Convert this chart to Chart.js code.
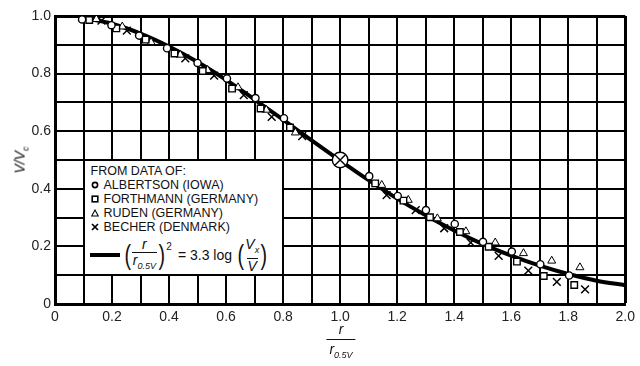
<!DOCTYPE html>
<html>
<head>
<meta charset="utf-8">
<script src="https://cdn.jsdelivr.net/npm/chart.js@4"></script>
<style>
  html, body { margin: 0; padding: 0; background: #fff; }
  #wrap { position: relative; width: 640px; height: 366px; font-family: "Liberation Sans", Arial, sans-serif; color: #111; }
  #chart { position: absolute; left: 0; top: 0; }
  .ytitle { position: absolute; left: 21px; top: 160px; transform: translate(-50%, -50%) rotate(-90deg); font-size: 14px; font-style: italic; white-space: nowrap; }
  .ytitle sub { font-size: 9px; }
  .xtitle { position: absolute; left: 341px; top: 322px; transform: translateX(-50%); display: flex; flex-direction: column; align-items: center; font-size: 14px; }
  .xtitle .num { font-style: italic; line-height: 15px; padding-bottom: 2px; }
  .xtitle .den { font-style: italic; border-top: 1.5px solid #111; line-height: 17px; padding: 1px 3px 0 3px; }
  .xtitle sub, .legend sub { font-size: 9px; font-style: italic; }
  #legendBox { position: absolute; background: #fff; font-size: 12.5px; }
  .legend .head { position: absolute; left: 6px; top: 3px; white-space: nowrap; }
  .legend .row { position: absolute; left: 6px; white-space: nowrap; display: flex; align-items: center; height: 14px; }
  .legend .row svg { margin-right: 5px; }
  .formula { position: absolute; left: 5px; top: 77px; display: flex; align-items: center; white-space: nowrap; font-size: 14px; }
  .formula .rule { display: inline-block; width: 30px; height: 4px; background: #000; margin-right: 3px; }
  .formula .paren { font-size: 28px; font-weight: 300; line-height: 30px; transform: scaleX(0.7); }
  .formula .frac { display: inline-flex; flex-direction: column; align-items: center; font-style: italic; }
  .formula .frac .n { line-height: 13px; padding-bottom: 1px; }
  .formula .frac .d { border-top: 1.3px solid #111; line-height: 14px; padding: 0 1px; }
  .formula sup { font-size: 10px; align-self: flex-start; margin-top: 3px; }
  .formula .eq { margin: 0 4px 0 6px; }
</style>
</head>
<body>
<div id="wrap">
  <canvas id="chart" width="640" height="366"></canvas>
  <div class="ytitle">V/V<sub>c</sub></div>
  <div class="xtitle"><span class="num">r</span><span class="den">r<sub>0.5V</sub></span></div>
  <div id="legendBox" class="legend">
    <div class="head">FROM DATA OF:</div>
    <div class="row" style="top:17px"><svg width="8" height="8"><circle cx="4" cy="4" r="2.6" fill="none" stroke="#000" stroke-width="1.6"/></svg>ALBERTSON (IOWA)</div>
    <div class="row" style="top:31px"><svg width="8" height="8"><rect x="1.2" y="1.2" width="5.6" height="5.6" fill="none" stroke="#000" stroke-width="1.6"/></svg>FORTHMANN (GERMANY)</div>
    <div class="row" style="top:45px"><svg width="8" height="8"><polygon points="4,1 7.3,7 0.7,7" fill="none" stroke="#000" stroke-width="1.1"/></svg>RUDEN (GERMANY)</div>
    <div class="row" style="top:59px"><svg width="8" height="8"><path d="M1,1 L7,7 M7,1 L1,7" stroke="#000" stroke-width="1.7"/></svg>BECHER (DENMARK)</div>
    <div class="formula">
      <span class="rule"></span>
      <span class="paren">(</span>
      <span class="frac"><span class="n">r</span><span class="d">r<sub>0.5V</sub></span></span>
      <span class="paren">)</span><sup>2</sup>
      <span class="eq">= 3.3 log</span>
      <span class="paren">(</span>
      <span class="frac"><span class="n">V<sub>x</sub></span><span class="d">V</span></span>
      <span class="paren">)</span>
    </div>
  </div>
</div>
<script>
// ── DATA ──
const xTickLabels = ['0','0.2','0.4','0.6','0.8','1.0','1.2','1.4','1.6','1.8','2.0'];
const yTickLabels = ['0','0.2','0.4','0.6','0.8','1.0'];

// fitted curve (r/r0.5V)^2 = 3.3 log(Vx/V)
const curveX = [0.1,0.2,0.3,0.4,0.5,0.6,0.7,0.8,0.9,1.0,1.1,1.2,1.3,1.4,1.5,1.6,1.7,1.8,1.9,2.0];
const curveY = [0.993,0.973,0.939,0.894,0.840,0.778,0.710,0.640,0.568,0.498,0.430,0.366,0.308,0.255,0.208,0.168,0.133,0.104,0.081,0.065];

const albertsonX = [0.095,0.198,0.295,0.393,0.500,0.603,0.703,0.803,1.102,1.202,1.301,1.402,1.501,1.602,1.702,1.803];
const albertsonY = [0.988,0.968,0.932,0.888,0.837,0.783,0.715,0.645,0.444,0.375,0.326,0.278,0.216,0.182,0.138,0.099];

const forthmannX = [0.120,0.215,0.318,0.419,0.518,0.621,0.721,0.824,1.123,1.222,1.315,1.420,1.521,1.620,1.714,1.821];
const forthmannY = [0.986,0.957,0.918,0.870,0.809,0.748,0.679,0.613,0.419,0.359,0.301,0.250,0.199,0.147,0.097,0.066];

const rudenX = [0.145,0.236,0.337,0.439,0.535,0.642,0.741,0.843,1.146,1.239,1.341,1.441,1.544,1.643,1.742,1.841];
const rudenY = [0.989,0.963,0.909,0.865,0.812,0.752,0.674,0.595,0.413,0.361,0.297,0.252,0.213,0.176,0.150,0.127];

const becherX = [0.163,0.252,0.457,0.558,0.662,0.760,0.867,1.163,1.265,1.365,1.458,1.556,1.660,1.760,1.859];
const becherY = [0.984,0.949,0.853,0.793,0.725,0.650,0.583,0.378,0.326,0.263,0.213,0.167,0.116,0.077,0.051];

const halfX = [1.0];
const halfY = [0.5];

const pts = (xs, ys) => xs.map((x, i) => ({ x, y: ys[i] }));

// ── CHART ──
Chart.defaults.font.family = '"Liberation Sans", Arial, sans-serif';
Chart.defaults.color = '#222';

const marker = {
  showLine: false,
  backgroundColor: '#fff',
  borderColor: '#000',
  order: 2
};

const chart = new Chart(document.getElementById('chart'), {
  type: 'scatter',
  data: {
    datasets: [
      { label: 'half', data: pts(halfX, halfY), pointStyle: 'crossRot', pointRadius: 7.5, borderColor: '#000', borderWidth: 1.4, order: 0 },
      { label: 'half-ring', data: pts(halfX, halfY), pointStyle: 'circle', pointRadius: 7.8, backgroundColor: '#fff', borderColor: '#000', borderWidth: 1.4, order: 1 },
      { ...marker, label: 'ALBERTSON (IOWA)', data: pts(albertsonX, albertsonY), pointStyle: 'circle', pointRadius: 3.6, borderWidth: 1.4 },
      { ...marker, label: 'FORTHMANN (GERMANY)', data: pts(forthmannX, forthmannY), pointStyle: 'rect', pointRadius: 4.6, borderWidth: 1.4 },
      { ...marker, label: 'RUDEN (GERMANY)', data: pts(rudenX, rudenY), pointStyle: 'triangle', pointRadius: 4.6, borderWidth: 1 },
      { ...marker, label: 'BECHER (DENMARK)', data: pts(becherX, becherY), pointStyle: 'crossRot', pointRadius: 5.5, borderWidth: 1.5 },
      { label: 'curve', data: pts(curveX, curveY), showLine: true, pointRadius: 0, borderColor: '#000', borderWidth: 4,
        cubicInterpolationMode: 'monotone', order: 5 }
    ]
  },
  options: {
    responsive: false,
    animation: false,
    layout: { padding: { top: 16, right: 12, left: 0, bottom: 0 } },
    plugins: { legend: { display: false }, tooltip: { enabled: false } },
    scales: {
      x: {
        type: 'linear', min: 0, max: 2,
        afterFit: s => { s.height = 62; },
        border: { color: '#000', width: 3 },
        grid: { color: '#000', drawTicks: false, lineWidth: c => (c.index === 20 ? 3 : 2) },
        ticks: {
          stepSize: 0.1, autoSkip: false, maxRotation: 0, padding: 5,
          font: { size: 14 },
          callback: (v, i) => (i % 2 === 0 ? xTickLabels[i / 2] : '')
        }
      },
      y: {
        type: 'linear', min: 0, max: 1,
        afterFit: s => { s.width = 55; },
        border: { color: '#000', width: 3 },
        grid: { color: '#000', drawTicks: false, lineWidth: c => (c.index === 10 ? 3 : 2) },
        ticks: {
          stepSize: 0.1, autoSkip: false, padding: 4,
          font: { size: 14 },
          callback: (v, i) => (i % 2 === 0 ? yTickLabels[i / 2] : '')
        }
      }
    }
  }
});

// ── LEGEND BOX sits in the grid cells 0.1–0.8 × 0.1–0.5 ──
const xs = chart.scales.x, ys = chart.scales.y;
const box = document.getElementById('legendBox');
const bl = xs.getPixelForValue(0.1) + 1, br = xs.getPixelForValue(0.8) - 1;
const bt = ys.getPixelForValue(0.5) + 1, bb = ys.getPixelForValue(0.1) - 1;
box.style.left = bl + 'px';
box.style.top = bt + 'px';
box.style.width = (br - bl) + 'px';
box.style.height = (bb - bt) + 'px';
</script>
</body>
</html>
